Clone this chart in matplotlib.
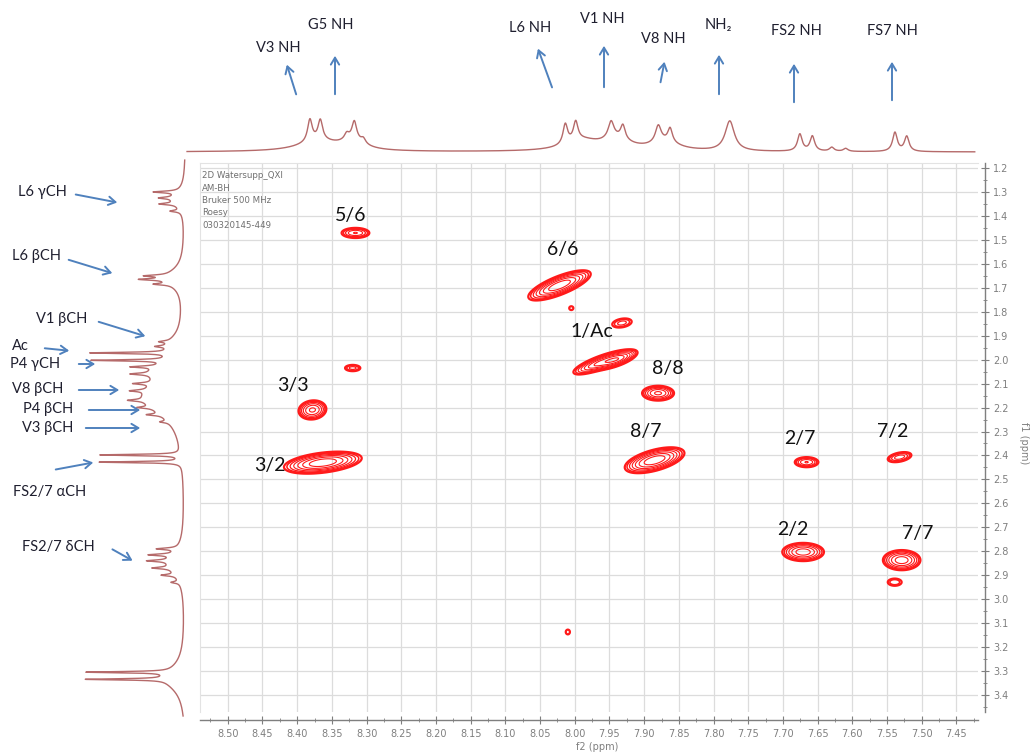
import numpy as np
import matplotlib
matplotlib.use("Agg")
import matplotlib.pyplot as plt
from matplotlib.ticker import MultipleLocator, FormatStrFormatter

# ---------------------------------------------------------------- data
# ROESY cross peaks: f2 (NH, ppm), f1 (ppm), relative intensity
cross_f2 = [8.316, 8.022, 8.005, 7.932, 7.962, 7.940, 7.880, 8.320, 8.378,
            8.363, 7.885, 7.666, 7.532, 7.671, 7.529, 7.539, 8.010]
cross_f1 = [1.471, 1.690, 1.785, 1.847, 2.012, 2.000, 2.140, 2.035, 2.210,
            2.430, 2.420, 2.428, 2.407, 2.803, 2.837, 2.929, 3.137]
cross_amp = [0.30, 1.00, 0.07, 0.15, 0.80, 0.90, 0.50, 0.15, 0.50,
             1.00, 1.00, 0.30, 0.25, 0.60, 0.60, 0.12, 0.07]
# extent of each cross peak along f2 / f1 (ppm) and f2-f1 correlation
cross_lw2 = [0.020, 0.045, 0.003, 0.014, 0.040, 0.030, 0.023, 0.011, 0.020,
             0.056, 0.043, 0.017, 0.017, 0.030, 0.027, 0.010, 0.003]
cross_lw1 = [0.021, 0.063, 0.008, 0.019, 0.050, 0.040, 0.031, 0.013, 0.040,
             0.046, 0.054, 0.021, 0.021, 0.038, 0.042, 0.015, 0.010]
cross_rho = [0.0, 0.75, 0.0, 0.3, 0.8, 0.7, 0.0, 0.0, 0.1,
             0.4, 0.55, 0.0, 0.4, 0.0, 0.0, 0.0, 0.0]
cross_labels = ["5/6", "6/6", "1/Ac", "8/8", "3/3", "3/2", "8/7", "2/7", "7/2", "2/2", "7/7"]

# 1D 1H trace along f2 (amide region): shift, height, half width
nh_shift = [8.382, 8.367, 8.329, 8.318, 8.305, 8.370, 8.320,
            8.014, 7.999, 7.948, 7.931, 7.990, 7.940,
            7.880, 7.863, 7.870, 7.777, 7.676, 7.658, 7.630, 7.610, 7.539, 7.522]
nh_height = [22, 20, 6, 18, 5, 10, 9,
             20, 19, 17, 14, 10, 10,
             17, 14, 8, 30, 17, 15, 4, 3, 19, 15]
nh_width = [0.004, 0.004, 0.004, 0.004, 0.004, 0.035, 0.020,
            0.004, 0.004, 0.005, 0.004, 0.030, 0.025,
            0.005, 0.004, 0.025, 0.008, 0.004, 0.004, 0.004, 0.004, 0.004, 0.004]

# 1D 1H trace along f1 (aliphatic region): shift, height, half width
ali_shift = [1.300, 1.325, 1.350, 1.380, 1.330,
             1.650, 1.665, 1.685, 1.660,
             1.925, 1.945, 1.935,
             1.972, 2.003, 2.030, 2.060, 2.100, 2.130, 2.170, 2.200, 2.230, 2.260, 2.160, 2.050,
             2.398, 2.428,
             2.790, 2.815, 2.840, 2.870, 2.900, 2.930, 2.850,
             3.305, 3.335, 3.330]
ali_height = [24, 14, 16, 10, 12,
              22, 26, 16, 18,
              10, 12, 10,
              78, 74, 26, 20, 18, 16, 16, 14, 14, 8, 40, 18,
              80, 82,
              20, 24, 22, 18, 14, 8, 16,
              82, 80, 20]
ali_width = [0.004, 0.004, 0.004, 0.004, 0.040,
             0.004, 0.004, 0.004, 0.045,
             0.004, 0.004, 0.045,
             0.003, 0.003, 0.004, 0.004, 0.004, 0.004, 0.004, 0.004, 0.004, 0.004, 0.085, 0.040,
             0.003, 0.003,
             0.004, 0.004, 0.004, 0.004, 0.004, 0.004, 0.060,
             0.003, 0.003, 0.060]

nh_labels = ["V3 NH", "G5 NH", "L6 NH", "V1 NH", "V8 NH", "NH\u2082", "FS2 NH", "FS7 NH"]
ali_labels = ["L6 \u03b3CH", "L6 \u03b2CH", "V1 \u03b2CH", "Ac", "P4 \u03b3CH",
              "V8 \u03b2CH", "P4 \u03b2CH", "V3 \u03b2CH", "FS2/7 \u03b1CH", "FS2/7 \u03b4CH"]
info_lines = ["2D Watersupp_QXI", "AM-BH", "Bruker 500 MHz", "Roesy", "030320145-449"]

# ---------------------------------------------------------------- helpers
W, H, DPI = 1031, 753, 100
FONT = ["Lato", "DejaVu Sans"]
TRACE = "#b56a6a"
ARROW = "#4f81bd"
GREY = "#7f7f7f"


def lorentz(x, x0, h, w):
    return h * w ** 2 / ((x - x0) ** 2 + w ** 2)


def rect(l, t, r, b):
    return [l / W, 1 - b / H, (r - l) / W, (b - t) / H]


fig = plt.figure(figsize=(W / DPI, H / DPI), dpi=DPI)

# ---------------------------------------------------------------- 2D map
ax = fig.add_axes(rect(200, 163, 978, 712))
ax.set_xlim(8.540, 7.419)
ax.set_ylim(3.471, 1.179)

f2 = np.linspace(7.419, 8.540, 1100)
f1 = np.linspace(1.179, 3.471, 900)
X, Y = np.meshgrid(f2, f1)
Z = np.zeros_like(X)
L0 = 0.05
for x0, y0, a, w2, w1, r in zip(cross_f2, cross_f1, cross_amp, cross_lw2, cross_lw1, cross_rho):
    k = np.sqrt(2 * np.log(a / L0)) if a > L0 else 1.0
    sx, sy = w2 / k, w1 / k
    dx, dy = (X - x0) / sx, (Y - y0) / sy
    q = (dx ** 2 - 2 * r * dx * dy + dy ** 2) / (1 - r ** 2)
    Z += a * np.exp(-0.5 * q)
levels = L0 * 1.55 ** np.arange(8)
ax.contour(X, Y, Z, levels=levels, colors="#ff1a1a",
           linewidths=[1.6, 1.1, 0.9, 0.8, 0.8, 0.8, 0.8, 0.8])

ax.xaxis.set_major_locator(MultipleLocator(0.05))
ax.xaxis.set_minor_locator(MultipleLocator(0.025))
ax.yaxis.set_major_locator(MultipleLocator(0.1))
ax.yaxis.set_minor_locator(MultipleLocator(0.05))
ax.xaxis.set_major_formatter(FormatStrFormatter("%.2f"))
ax.yaxis.set_major_formatter(FormatStrFormatter("%.1f"))
ax.grid(True, which="major", color="#dcdcdc", lw=0.9)
ax.set_axisbelow(True)
ax.yaxis.tick_right()
for s in ["top", "left"]:
    ax.spines[s].set_color("#e3e3e3")
ax.spines["bottom"].set_position(("outward", 6))
ax.spines["right"].set_position(("outward", 5))
for s in ["bottom", "right"]:
    ax.spines[s].set_color(GREY)
    ax.spines[s].set_linewidth(1.0)
ax.tick_params(which="both", colors=GREY, labelsize=7, direction="inout")
ax.tick_params(which="major", length=6, pad=3)
ax.tick_params(which="minor", length=3)
ax.set_xlabel("f2 (ppm)", fontsize=7, color=GREY)
ax.xaxis.set_label_coords(0.51, -0.055)
ax.set_ylabel("f1 (ppm)", fontsize=7, color=GREY, rotation=270)
ax.yaxis.set_label_position("right")
ax.yaxis.set_label_coords(1.066, 0.49)
ax.patch.set_alpha(0)

for i, line in enumerate(info_lines):
    ax.text(0.003, 0.985 - i * 0.0225, line, transform=ax.transAxes,
            fontsize=6.2, color="#6f6f6f", va="top", ha="left")

# ---------------------------------------------------------------- f2 trace
top = fig.add_axes(rect(0, 95, W, 160))
top.set_xlim(8.5 + 228 / 694, 8.5 - 803 / 694)
top.set_ylim(-8, 57)
top.axis("off")
xs = np.linspace(8.559, 7.424, 3000)
ys = np.zeros_like(xs)
for s, h, w in zip(nh_shift, nh_height, nh_width):
    ys += lorentz(xs, s, h, w)
top.plot(xs, ys, color=TRACE, lw=1.0)

# ---------------------------------------------------------------- f1 trace
left = fig.add_axes(rect(0, 0, 200, H))
left.set_xlim(186, -14)
left.set_ylim(1.2 + 585 / 239.5, 1.2 - 168 / 239.5)
left.axis("off")
ps = np.linspace(1.167, 3.488, 4000)
pv = np.zeros_like(ps)
for s, h, w in zip(ali_shift, ali_height, ali_width):
    pv += lorentz(ps, s, h, w)
left.plot(pv, ps, color=TRACE, lw=1.0)

# ---------------------------------------------------------------- annotations
ov = fig.add_axes([0, 0, 1, 1])
ov.set_xlim(0, W)
ov.set_ylim(H, 0)
ov.axis("off")
ov.patch.set_alpha(0)

cross_label_xy = [(351, 215), (563, 249), (592, 331), (668, 368), (293, 385),
                  (270, 465), (646, 431), (800, 438), (893, 431), (793, 529), (918, 533)]
for t, (x, y) in zip(cross_labels, cross_label_xy):
    ov.text(x, y, t, fontsize=14, family=FONT, color="#111111", ha="center", va="center")

nh_label_xy = [(278, 48), (331, 25), (530, 28), (602, 19), (663, 39), (718, 25),
               (796, 31), (892, 31)]
nh_arrows = [((297, 97), (286, 62)), ((335, 97), (335, 53)), ((553, 90), (537, 46)),
             ((604, 90), (604, 43)), ((660, 85), (665, 59)), ((719, 97), (719, 52)),
             ((794, 105), (794, 61)), ((892, 103), (892, 59))]
for t, (x, y) in zip(nh_labels, nh_label_xy):
    ov.text(x, y, t, fontsize=10.5, family=FONT, color="#1f1f2f", ha="center", va="center")
for (x0, y0), (x1, y1) in nh_arrows:
    ov.annotate("", xy=(x1, y1), xytext=(x0, y0),
                arrowprops=dict(arrowstyle="->,head_length=0.5,head_width=0.3", color=ARROW, lw=1.4))

ali_label_xy = [(42, 192), (37, 256), (62, 319), (20, 346), (35, 364),
                (38, 389), (48, 409), (48, 428), (50, 492), (58, 547)]
ali_arrows = [((73, 194), (120, 203)), ((66, 259), (115, 274)), ((96, 321), (148, 337)),
              ((42, 348), (72, 351)), ((76, 364), (98, 364)), ((76, 390), (122, 390)),
              ((86, 410), (143, 410)), ((83, 428), (143, 428)), ((53, 470), (96, 462)),
              ((110, 548), (135, 562))]
for t, (x, y) in zip(ali_labels, ali_label_xy):
    ov.text(x, y, t, fontsize=10.5, family=FONT, color="#1f1f2f", ha="center", va="center")
for (x0, y0), (x1, y1) in ali_arrows:
    ov.annotate("", xy=(x1, y1), xytext=(x0, y0),
                arrowprops=dict(arrowstyle="->,head_length=0.5,head_width=0.3", color=ARROW, lw=1.4))

fig.savefig("out.png", dpi=DPI)
